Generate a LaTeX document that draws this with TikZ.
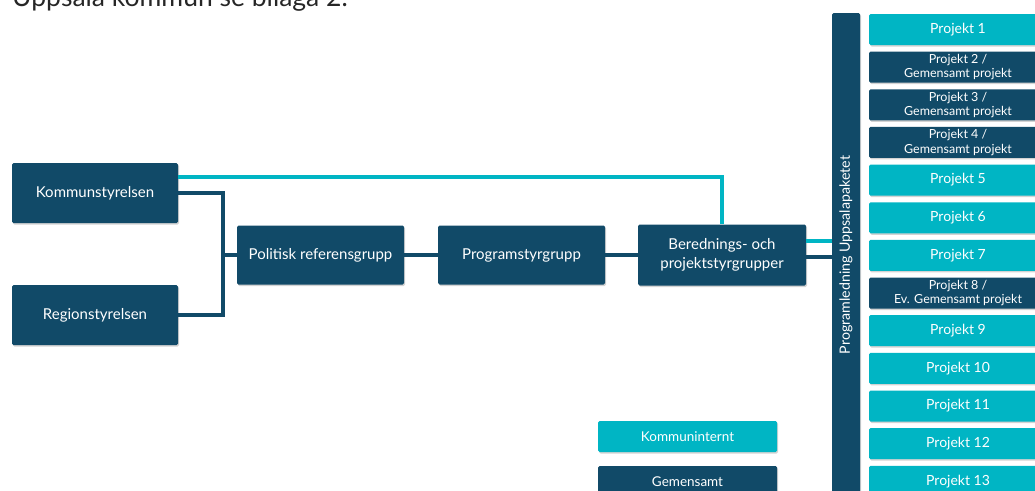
\documentclass[tikz,border=0pt]{standalone}
\usepackage{fontspec}
\setmainfont{Lato}
\usepackage{xcolor}
\usetikzlibrary{positioning,calc,shadows}

\definecolor{uppdark}{RGB}{17,74,104}
\definecolor{uppteal}{RGB}{0,181,196}

\begin{document}
\begin{tikzpicture}[x=1pt, y=-1pt,
    box/.style={rounded corners=1.5pt, text=white, align=center, inner sep=0pt,
        drop shadow={shadow xshift=1pt, shadow yshift=-1.5pt, opacity=0.35}},
    darkbox/.style={box, fill=uppdark},
    tealbox/.style={box, fill=uppteal},
    darkline/.style={draw=uppdark, line width=3.5pt},
    tealline/.style={draw=uppteal, line width=4pt}]
    \useasboundingbox (0,0) rectangle (1035,490);
    \clip (0,0) rectangle (1035,490);

    % Heading (cut off)
    \node[anchor=base west, inner sep=0pt, font=\fontsize{26.5}{30}\selectfont, text=black!85] (head) at (12,6) {Uppsala kommun se bilaga 2.};

    % Boards
    \node[darkbox, minimum width=166, minimum height=60, font=\fontsize{15}{18}\selectfont] (ks) at (95,193) {Kommunstyrelsen};
    \node[darkbox, minimum width=166, minimum height=60, font=\fontsize{15}{18}\selectfont] (rs) at (95,315) {Regionstyrelsen};

    % Groups
    \node[darkbox, minimum width=167, minimum height=59, font=\fontsize{15}{18}\selectfont] (prg) at (320.5,255) {Politisk referensgrupp};
    \node[darkbox, minimum width=167, minimum height=59, font=\fontsize{15}{18}\selectfont] (psg) at (521.5,255) {Programstyrgrupp};
    \node[darkbox, minimum width=168, minimum height=61, font=\fontsize{15}{19}\selectfont] (bpg) at (722,255) {Berednings- och\\projektstyrgrupper};

    % Programme bar
    \node[darkbox, minimum width=28, minimum height=484] (bar) at (846,255) {};
    \node[rotate=90, text=white, font=\fontsize{14.2}{17}\selectfont] (barlabel) at (bar.center) {Programledning Uppsalapaketet};

    % Projects
    \foreach \k/\kind/\txt/\fs in {1/tealbox/{Projekt 1}/14,
            2/darkbox/{Projekt 2 /\\Gemensamt projekt}/12.5,
            3/darkbox/{Projekt 3 /\\Gemensamt projekt}/12.5,
            4/darkbox/{Projekt 4 /\\Gemensamt projekt}/12.5,
            5/tealbox/{Projekt 5}/14,
            6/tealbox/{Projekt 6}/14,
            7/tealbox/{Projekt 7}/14,
            8/darkbox/{Projekt 8 /\\Ev. Gemensamt projekt}/12.5,
            9/tealbox/{Projekt 9}/14,
            10/tealbox/{Projekt 10}/14,
            11/tealbox/{Projekt 11}/14,
            12/tealbox/{Projekt 12}/14,
            13/tealbox/{Projekt 13}/14}
        \node[\kind, minimum width=178, minimum height=31, font=\fontsize{\fs}{14.5}\selectfont] (p\k) at (958,{29.5+(\k-1)*37.65}) {\txt};

    % Legend
    \node[tealbox, minimum width=179, minimum height=31, font=\fontsize{13.5}{16}\selectfont] (legteal) at (687.5,436.5) {Kommuninternt};
    \node[darkbox, minimum width=179, minimum height=31, font=\fontsize{13.5}{16}\selectfont] (legdark) at (687.5,481.5) {Gemensamt};

    % Connectors
    \coordinate (join) at (223,255);
    \draw[darkline] (ks.east) -| (join) |- (rs.east);
    \draw[darkline] (join) -- (prg.west);
    \draw[darkline] (prg.east) -- (psg.west);
    \draw[darkline] (psg.east) -- (bpg.west);
    \draw[tealline] ([yshift=16pt]ks.east) -| (bpg.north);
    \draw[tealline] ([yshift=14.5pt]bpg.east) -- ([yshift=14.5pt]bpg.east -| bar.west);
    \draw[darkline] ([yshift=-2pt]bpg.east) -- ([yshift=-2pt]bpg.east -| bar.west);
\end{tikzpicture}
\end{document}
